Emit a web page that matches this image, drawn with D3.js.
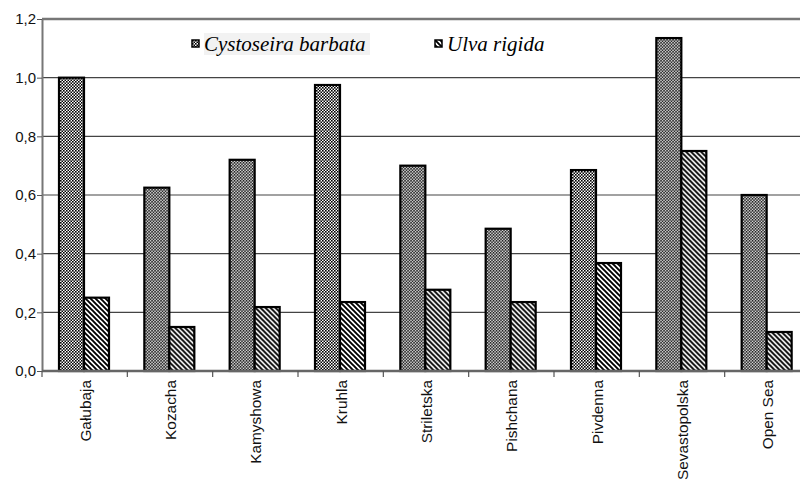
<!DOCTYPE html>
<html>
<head>
<meta charset="utf-8">
<script src="https://cdn.jsdelivr.net/npm/d3@7"></script>
<style>
  body { margin: 0; background: #fff; }
  svg { display: block; }
  .sans { font-family: "Liberation Sans", Arial, sans-serif; }
  .serif { font-family: "Liberation Serif", "Times New Roman", serif; }
</style>
</head>
<body>
<div id="chart"></div>
<script>
// Data
const sites = ["Gałubaja", "Kozacha", "Kamyshowa", "Kruhla", "Striletska",
  "Pishchana", "Pivdenna", "Sevastopolska", "Open Sea"];
const cystoseira = [1.0, 0.625, 0.72, 0.975, 0.70, 0.485, 0.685, 1.135, 0.60];
const ulva = [0.25, 0.15, 0.218, 0.235, 0.277, 0.235, 0.368, 0.75, 0.133];
const seriesNames = ["Cystoseira barbata", "Ulva rigida"];
const yTicks = [0, 0.2, 0.4, 0.6, 0.8, 1.0, 1.2];

const W = 800, H = 483;
const MARGIN = { LEFT: 42, TOP: 19, BOTTOM: 112 };
const PLOT_RIGHT = 810; // plot runs past the right edge of the image

const svg = d3.select("#chart").append("svg")
  .attr("width", W)
  .attr("height", H);

// Patterns
const defs = svg.append("defs");
const checker = defs.append("pattern")
  .attr("id", "checker")
  .attr("patternUnits", "userSpaceOnUse")
  .attr("width", 3).attr("height", 3);
checker.append("rect").attr("width", 3).attr("height", 3).attr("fill", "#fff");
checker.append("rect").attr("width", 1.6).attr("height", 1.6).attr("fill", "#000");
checker.append("rect").attr("x", 1.5).attr("y", 1.5).attr("width", 1.6).attr("height", 1.6).attr("fill", "#000");

const hatch = defs.append("pattern")
  .attr("id", "hatch")
  .attr("patternUnits", "userSpaceOnUse")
  .attr("width", 5).attr("height", 5);
hatch.append("rect").attr("width", 5).attr("height", 5).attr("fill", "#fff");
hatch.append("path")
  .attr("d", "M-1,-1 L6,6 M-1,4 L1,6 M4,-1 L6,1")
  .attr("stroke", "#000")
  .attr("stroke-width", 1.9);

const fills = ["url(#checker)", "url(#hatch)"];

// Scales
const y = d3.scaleLinear().domain([0, 1.2]).range([H - MARGIN.BOTTOM, MARGIN.TOP]);
const x0 = d3.scaleBand().domain(sites).range([MARGIN.LEFT, PLOT_RIGHT]);
const x1 = d3.scaleBand().domain(seriesNames).range([17, 67]);

// Gridlines
svg.append("g")
  .selectAll("line")
  .data(yTicks.filter(d => d > 0 && d < 1.2))
  .enter().append("line")
  .attr("x1", MARGIN.LEFT).attr("x2", W)
  .attr("y1", d => y(d)).attr("y2", d => y(d))
  .attr("stroke", "#444")
  .attr("stroke-width", 1.2);

// top border at 1,2
svg.append("line")
  .attr("x1", MARGIN.LEFT).attr("x2", W)
  .attr("y1", y(1.2)).attr("y2", y(1.2))
  .attr("stroke", "#777")
  .attr("stroke-width", 2.5);

// Bars
const groups = svg.append("g")
  .selectAll("g")
  .data(sites)
  .enter().append("g")
  .attr("transform", d => `translate(${x0(d)},0)`);

groups.selectAll("rect")
  .data((d, i) => [cystoseira[i], ulva[i]].map((v, j) => ({ key: seriesNames[j], value: v, j: j })))
  .enter().append("rect")
  .attr("x", d => x1(d.key))
  .attr("width", x1.bandwidth())
  .attr("y", d => y(d.value))
  .attr("height", d => y(0) - y(d.value))
  .attr("fill", d => fills[d.j])
  .attr("stroke", "#000")
  .attr("stroke-width", 2.2);

// Y axis
const yAxis = svg.append("g")
  .attr("transform", `translate(${MARGIN.LEFT},0)`)
  .call(d3.axisLeft(y).tickValues(yTicks).tickSize(5).tickSizeOuter(0)
    .tickFormat(d => d3.format(".1f")(d).replace(".", ",")));
yAxis.attr("font-family", null).attr("font-size", null);
yAxis.select(".domain").attr("stroke", "#777").attr("stroke-width", 2);
yAxis.selectAll(".tick line").attr("stroke", "#555");
yAxis.selectAll(".tick text")
  .attr("class", "sans")
  .style("font-size", "15px")
  .attr("fill", "#111")
  .attr("x", -6);

// X axis
const xAxisG = svg.append("g")
  .attr("transform", `translate(0,${y(0)})`);
xAxisG.append("line")
  .attr("x1", MARGIN.LEFT).attr("x2", W)
  .attr("stroke", "#666")
  .attr("stroke-width", 2.5);
xAxisG.selectAll("line.tick")
  .data(sites)
  .enter().append("line")
  .attr("class", "tick")
  .attr("x1", d => x0(d)).attr("x2", d => x0(d))
  .attr("y1", 0).attr("y2", 6)
  .attr("stroke", "#555")
  .attr("stroke-width", 1.2);
xAxisG.selectAll("text")
  .data(sites)
  .enter().append("text")
  .attr("class", "sans")
  .attr("transform", d => `translate(${x0(d) + x0.bandwidth() / 2 + 6},9) rotate(-90)`)
  .attr("text-anchor", "end")
  .style("font-size", "15.4px")
  .attr("fill", "#111")
  .text(d => d);

// Legend
const legend = svg.append("g");
legend.append("rect")
  .attr("x", 204).attr("y", 33)
  .attr("width", 166).attr("height", 22)
  .attr("fill", "#f2f2f2");
const legendX = [192, 435];
const legendItems = legend.selectAll("g.item")
  .data(seriesNames)
  .enter().append("g")
  .attr("class", "item")
  .attr("transform", (d, i) => `translate(${legendX[i]},40)`);
legendItems.append("rect")
  .attr("width", 7).attr("height", 7)
  .attr("fill", (d, i) => fills[i])
  .attr("stroke", "#000")
  .attr("stroke-width", 1.5);
legendItems.append("text")
  .attr("class", "serif")
  .attr("x", 12).attr("y", 11)
  .style("font-style", "italic")
  .style("font-size", "21px")
  .attr("fill", "#000")
  .text(d => d);
</script>
</body>
</html>
